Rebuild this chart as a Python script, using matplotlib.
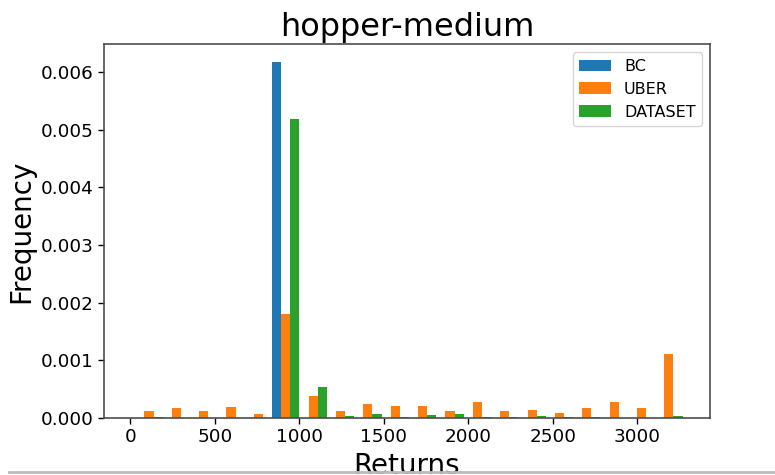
import numpy as np
import matplotlib
matplotlib.use("Agg")
import matplotlib.pyplot as plt
from matplotlib.lines import Line2D

# histogram bins (20 bins over the return range)
bin_lo = 30
bin_hi = 3268
n_bins = 20

# density per bin
bc = [0, 0, 0, 0, 0, 0.00617, 0, 0, 0, 0,
      0, 0, 0, 0, 0, 0, 0, 0, 0, 0]

uber = [0.000116, 0.000173, 0.000116, 0.000185, 0.000069,
        0.00180, 0.000387, 0.000116, 0.000243, 0.000214,
        0.000214, 0.000116, 0.000283, 0.000116, 0.000139,
        0.000087, 0.000173, 0.000283, 0.000173, 0.001116]

dataset = [0.000017, 0.000003, 0.000002, 0.000003, 0.000005,
           0.00518, 0.000538, 0.000040, 0.000069, 0.000017,
           0.000046, 0.000069, 0.000017, 0.000017, 0.000040,
           0.000017, 0.000017, 0.000006, 0.000006, 0.000040]

labels = ["BC", "UBER", "DATASET"]
colors = ["#1f77b4", "#ff7f0e", "#2ca02c"]

edges = np.linspace(bin_lo, bin_hi, n_bins + 1)
centers = (edges[:-1] + edges[1:]) / 2

fig = plt.figure(figsize=(7.75, 4.75), dpi=100)
ax = fig.add_axes([0.1342, 0.12, 0.7819, 0.7867])

ax.hist(
    [centers, centers, centers],
    bins=edges,
    weights=[bc, uber, dataset],
    rwidth=1.0,
    color=colors,
    label=labels
)

ax.set_xlim(-155, 3430)
ax.set_ylim(0, 0.00648)
ax.set_xticks([0, 500, 1000, 1500, 2000, 2500, 3000])
ax.set_yticks([0, 0.001, 0.002, 0.003, 0.004, 0.005, 0.006])
ax.set_yticklabels([f"{v:.3f}" for v in ax.get_yticks()])

ax.tick_params(axis="both", labelsize=13.2, length=4, width=1)

ax.set_title("hopper-medium", fontsize=23)
ax.set_xlabel("Returns", fontsize=20)
ax.set_ylabel("Frequency", fontsize=20)

for side in ["left", "right", "top", "bottom"]:
    ax.spines[side].set_color("#4d4d4d")
    ax.spines[side].set_linewidth(1.2)

ax.legend(loc="upper right", fontsize=11.5)

# grey rule along the bottom edge of the screenshot
fig.add_artist(Line2D([0.012, 1.0], [0.006, 0.006],
                      transform=fig.transFigure, color="#bbbbbb", linewidth=2))

fig.savefig("out.png", dpi=100)
